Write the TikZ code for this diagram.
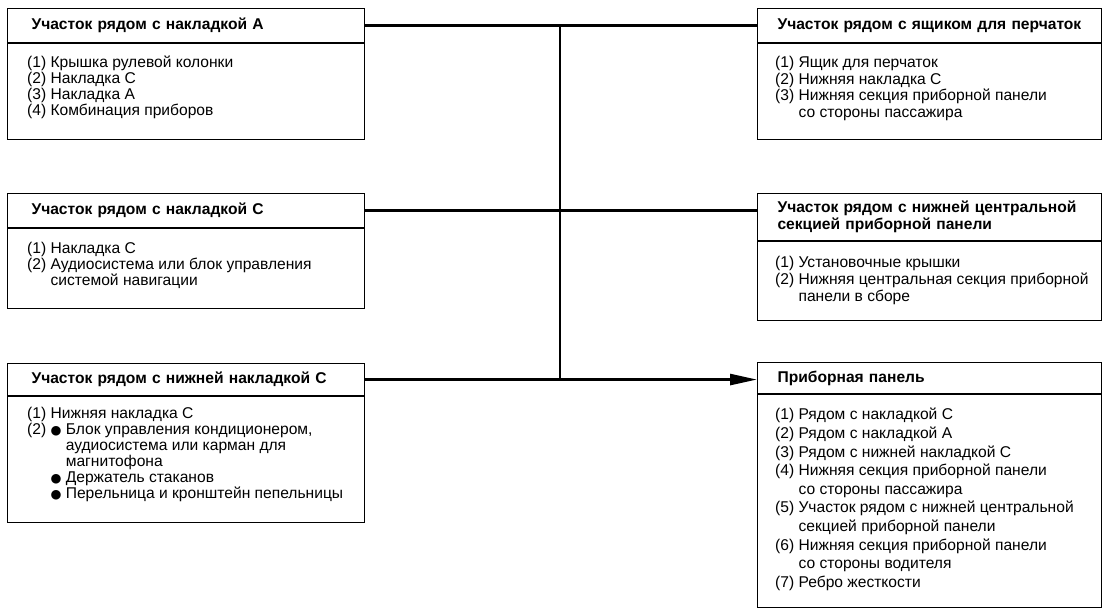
\documentclass[tikz,border=0pt]{standalone}
\usepackage{fontspec}
\setmainfont{Liberation Sans}
\newfontfamily\dotfont{DejaVu Sans}
\usetikzlibrary{arrows.meta}
\newcommand{\bul}{{\dotfont\fontsize{12.5}{16}\selectfont ●}}

\begin{document}
\begin{tikzpicture}[x=1pt,y=-1pt]
    \tikzstyle{head}=[draw, line width=1.1pt, anchor=north west, inner ysep=0pt, align=left, font=\fontsize{15.6}{17}\selectfont\bfseries]
    \tikzstyle{left head}=[head, inner xsep=24pt, text width=309pt]
    \tikzstyle{right head}=[head, inner xsep=20pt, text width=304pt]
    \tikzstyle{body}=[draw, line width=1.1pt, anchor=north west, inner sep=0pt]
    \tikzstyle{items}=[anchor=north west, inner xsep=20pt, inner ysep=13pt, align=left, font=\fontsize{15.6}{16}\selectfont]
    \tikzstyle{wire}=[line width=2.6pt]

    \useasboundingbox (0,0) rectangle (1104,608);

    % Draw the boxes on the left
    \node[left head, minimum height=34pt] (a-h) at (7,8) {Участок рядом с накладкой А};
    \node[body, minimum width=357pt, minimum height=96pt] (a-b) at (a-h.south west) {};
    \node[items] (a-t) at (a-b.north west) {(1) Крышка рулевой колонки\\(2) Накладка С\\(3) Накладка А\\(4) Комбинация приборов};

    \node[left head, minimum height=34pt] (c-h) at (7,193) {Участок рядом с накладкой С};
    \node[body, minimum width=357pt, minimum height=80pt] (c-b) at (c-h.south west) {};
    \node[items, inner ysep=14pt] (c-t) at (c-b.north west) {(1) Накладка С\\(2) Аудиосистема или блок управления\\\hphantom{(2)\ }системой навигации};

    \node[left head, minimum height=32pt] (l-h) at (7,363) {Участок рядом с нижней накладкой С};
    \node[body, minimum width=357pt, minimum height=126pt] (l-b) at (l-h.south west) {};
    \node[items, inner ysep=11pt] (l-t) at (l-b.north west) {(1) Нижняя накладка С\\(2) \bul\ Блок управления кондиционером,\\\hphantom{(2)\ \bul\ }аудиосистема или карман для\\\hphantom{(2)\ \bul\ }магнитофона\\\hphantom{(2)\ }\bul\ Держатель стаканов\\\hphantom{(2)\ }\bul\ Перельница и кронштейн пепельницы};

    % Draw the boxes on the right
    \node[right head, minimum height=34pt] (r1-h) at (757,8) {Участок рядом с ящиком для перчаток};
    \node[body, minimum width=344pt, minimum height=96pt] (r1-b) at (r1-h.south west) {};
    \node[items, inner xsep=18pt, font=\fontsize{15.6}{16.5}\selectfont] (r1-t) at (r1-b.north west) {(1) Ящик для перчаток\\(2) Нижняя накладка С\\(3) Нижняя секция приборной панели\\\hphantom{(3)\ }со стороны пассажира};

    \node[right head, minimum height=47pt] (r2-h) at (757,193) {Участок рядом с нижней центральной\\секцией приборной панели};
    \node[body, minimum width=344pt, minimum height=79pt] (r2-b) at (r2-h.south west) {};
    \node[items, inner xsep=18pt, inner ysep=15pt, font=\fontsize{15.6}{17}\selectfont] (r2-t) at (r2-b.north west) {(1) Установочные крышки\\(2) Нижняя центральная секция приборной\\\hphantom{(2)\ }панели в сборе};

    \node[right head, minimum height=31pt] (p-h) at (757,362) {Приборная панель};
    \node[body, minimum width=344pt, minimum height=213pt] (p-b) at (p-h.south west) {};
    \node[items, inner xsep=18pt, inner ysep=14pt, font=\fontsize{15.6}{18.6}\selectfont] (p-t) at (p-b.north west) {(1) Рядом с накладкой С\\(2) Рядом с накладкой А\\(3) Рядом с нижней накладкой С\\(4) Нижняя секция приборной панели\\\hphantom{(4)\ }со стороны пассажира\\(5) Участок рядом с нижней центральной\\\hphantom{(5)\ }секцией приборной панели\\(6) Нижняя секция приборной панели\\\hphantom{(6)\ }со стороны водителя\\(7) Ребро жесткости};

    % Connect the boxes through the common bus
    \coordinate (bus) at (560,0);
    \draw[wire] (a-h.east) -- (a-h.east -| r1-h.west);
    \draw[wire] (c-h.east) -- (c-h.east -| r2-h.west);
    \draw[wire, -{Triangle[length=27pt,width=11pt]}] (l-h.east) -- (l-h.east -| p-h.west);
    \draw[wire] (a-h.east -| bus) -- (l-h.east -| bus);

\end{tikzpicture}
\end{document}
